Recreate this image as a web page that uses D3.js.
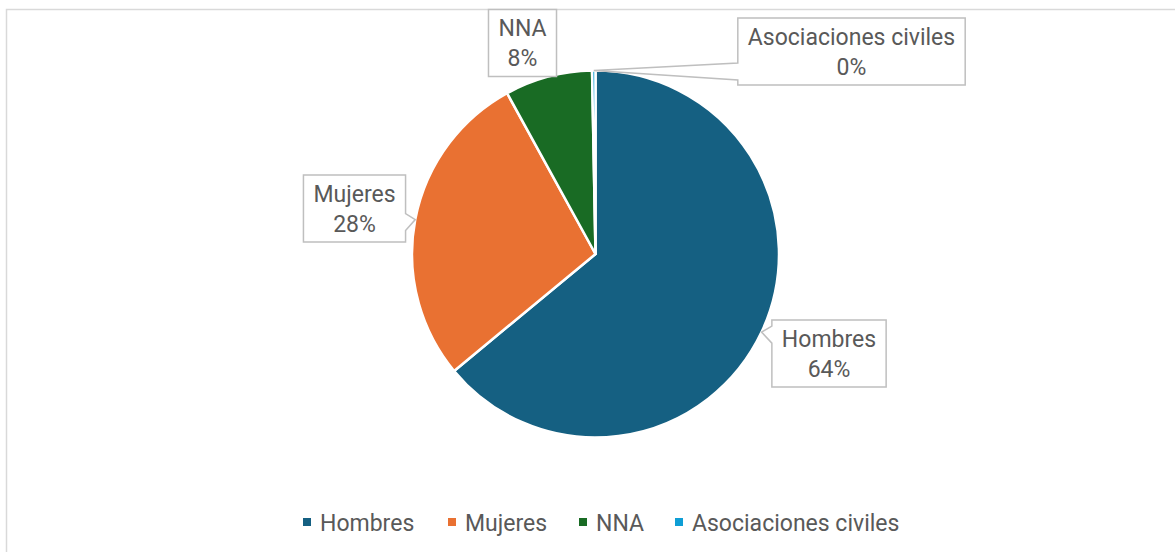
<!DOCTYPE html>
<html><head><meta charset="utf-8">
<script src="https://cdn.jsdelivr.net/npm/d3@7"></script>
<style>body{margin:0;background:#fff}svg{display:block}text{font-family:Roboto,"Liberation Sans",sans-serif;fill:#595959}</style>
</head><body><svg id="c" width="1175" height="552"></svg>
<script>
const categories = ["Hombres","Mujeres","NNA","Asociaciones civiles"];
const values = [64.0, 28.0, 7.7, 0.3];
const colors = ["#156082","#E97132","#196B24","#0F9ED5"];
// label box centers (layout)
const labelCenters = [[829,353.5],[354.5,208.5],[522.5,43],[851.5,51.5]];

const svg = d3.select("#c");
svg.append("rect").attr("x",6.5).attr("y",9.5).attr("width",1200).attr("height",600)
  .attr("fill","#fff").attr("stroke","#d9d9d9").attr("stroke-width",1.5);

const cx = 595.5, cy = 254, r = 183.5;
const total = d3.sum(values);
const pie = d3.pie().sort(null).value(d=>d)(values);
const arc = d3.arc().innerRadius(0).outerRadius(r);
const g = svg.append("g").attr("transform",`translate(${cx},${cy})`);
g.selectAll("path").data(pie).join("path").attr("d",arc)
  .attr("fill",(d,i)=>colors[i]).attr("stroke","#fff").attr("stroke-width",2.5).attr("stroke-linejoin","round");

const fs = 23;
const lg = svg.append("g");
pie.forEach((d,i)=>{
  const mid = (d.startAngle+d.endAngle)/2;
  const tx = cx + r*Math.sin(mid), ty = cy - r*Math.cos(mid);
  const [lx,ly] = labelCenters[i];
  const t1 = lg.append("text").attr("font-size",fs).attr("text-anchor","middle").attr("x",lx).text(categories[i]);
  const t2 = lg.append("text").attr("font-size",fs).attr("text-anchor","middle").attr("x",lx).text(Math.round(values[i]/total*100)+"%");
  const w = Math.max(t1.node().getComputedTextLength(), t2.node().getComputedTextLength()) + 20;
  const h = 67;
  const x0 = lx - w/2, x1 = lx + w/2, y0 = ly - h/2, y1 = ly + h/2;
  t1.attr("y", y0 + 18.5).attr("dy","0.35em");
  t2.attr("y", y0 + 48.5).attr("dy","0.35em");
  let p;
  const nearX = tx < x0 ? "L" : tx > x1 ? "R" : null;
  if (nearX && !(ty<y0-2 && tx>x0-5) ) {
    const bc = Math.max(y0+6, Math.min(y1-14, ty+2));
    const b0 = bc-8, b1 = bc+9;
    if (nearX==="L") p = `M${x0},${y0}H${x1}V${y1}H${x0}V${b1}L${tx},${ty}L${x0},${b0}Z`;
    else p = `M${x0},${y0}H${x1}V${b0}L${tx},${ty}L${x1},${b1}V${y1}H${x0}Z`;
  } else {
    p = `M${x0},${y0}H${x1}V${y1}H${x0}Z`;
  }
  lg.insert("path","text").attr("d",p).attr("fill","#fff").attr("stroke","#bfbfbf").attr("stroke-width",1.5);
});

// legend
const legX = [303, 448, 579, 675];
const leg = svg.append("g");
categories.forEach((c,i)=>{
  leg.append("rect").attr("x",legX[i]).attr("y",518).attr("width",8).attr("height",8).attr("fill",colors[i]);
  leg.append("text").attr("x",legX[i]+17).attr("y",522.5).attr("dy","0.35em").attr("font-size",fs).text(c);
});
</script></body></html>
